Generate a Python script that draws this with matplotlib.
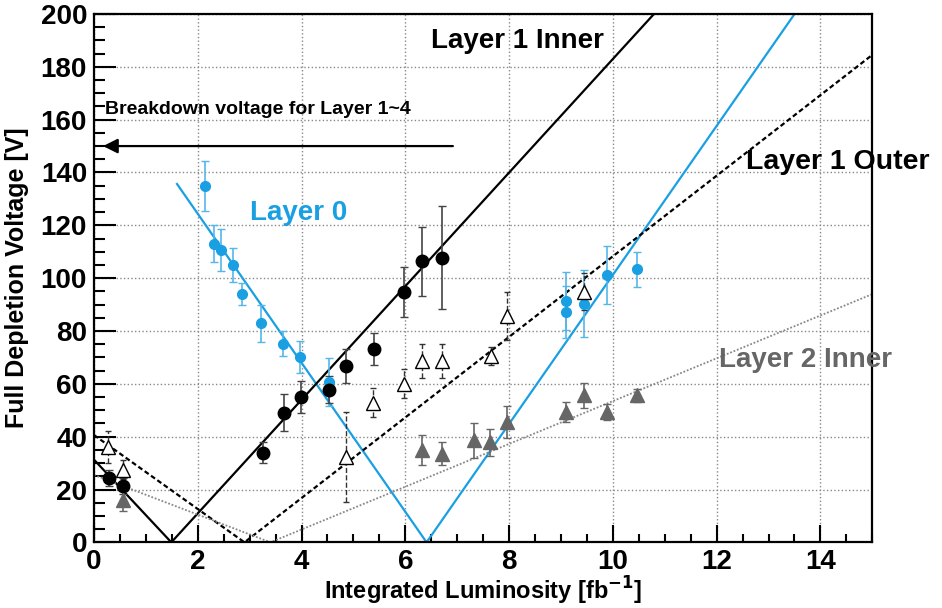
import numpy as np
import matplotlib
matplotlib.use("Agg")
import matplotlib.pyplot as plt
from matplotlib.ticker import MultipleLocator

plt.rcParams['font.family'] = ['Liberation Sans', 'DejaVu Sans']
plt.rcParams['font.weight'] = 'bold'
plt.rcParams['mathtext.default'] = 'bf'

# measured full depletion voltage vs integrated luminosity
layer0_lumi = [2.13, 2.31, 2.44, 2.67, 2.85, 3.22, 3.64, 3.97, 4.52, 9.09, 9.09, 9.45, 9.88, 10.47]
layer0_vfd = [135, 113, 110.6, 105, 94, 83, 75.2, 70.2, 60.7, 91.3, 87.2, 90.4, 101.3, 103.3]
layer0_err = [9.5, 7, 8, 6.5, 4.3, 7, 4.7, 6, 9, 11, 10, 12.5, 11, 6.5]

l1in_lumi = [0.28, 0.55, 3.25, 3.67, 3.98, 4.52, 4.86, 5.39, 5.98, 6.32, 6.71]
l1in_vfd = [24.4, 21.3, 34, 49.1, 55, 57.8, 66.8, 73.1, 94.8, 106.4, 107.7]
l1in_err = [3, 3, 4, 7, 6, 5, 6.5, 6, 9.6, 13, 19.5]

l1out_lumi = [0.27, 0.55, 4.86, 5.38, 5.98, 6.32, 6.71, 7.66, 7.95, 9.45]
l1out_vfd = [36.1, 27.5, 32.3, 52.9, 60.1, 68.6, 68.6, 70.5, 85.6, 94.8]
l1out_err = [6, 3.5, 17, 5.5, 5.5, 6.5, 6.5, 3.5, 9, 7]

l2in_lumi = [0.55, 6.32, 6.71, 7.32, 7.64, 7.95, 9.09, 9.45, 9.88, 10.47]
l2in_vfd = [16, 35.1, 33.6, 38.6, 37.8, 45.6, 49.4, 55.7, 49.4, 55.7]
l2in_err = [4, 5.7, 4.5, 6.5, 5, 6, 3.7, 4.7, 3, 2.5]

# type-inversion fits: zero point, slope before and after inversion, start of fit
fit_names = ['Layer 0', 'Layer 1 Inner', 'Layer 1 Outer', 'Layer 2 Inner']
fit_zero = [6.41, 1.49, 2.90, 3.40]
fit_slope_down = [28.2, 21.0, 14.0, 7.5]
fit_slope_up = [28.2, 21.5, 15.25, 8.1]
fit_start = [1.6, 0.0, 0.0, 0.0]

breakdown_v = 150

blue = '#1a9fe3'
grey = '#666666'

fig = plt.figure(figsize=(9.42, 6.08), dpi=100)
ax = fig.add_axes([0.0998, 0.108, 0.8262, 0.869])

# fit lines
styles = [dict(color=blue, lw=1.6, ls='-'),
          dict(color='black', lw=1.6, ls='-'),
          dict(color='black', lw=1.6, ls=(0, (2.2, 1.3))),
          dict(color='#888888', lw=1.3, ls=(0, (1, 1)))]
for z, sd, su, x0, st in zip(fit_zero, fit_slope_down, fit_slope_up, fit_start, styles):
    x = np.linspace(x0, 15, 600)
    v = np.where(x < z, sd * (z - x), su * (x - z))
    ax.plot(x, v, zorder=2, **st)

# data points
ax.errorbar(layer0_lumi, layer0_vfd, yerr=layer0_err, fmt='o', color=blue,
            ms=7, ecolor='#55b6ea', elinewidth=1.2, capsize=3, zorder=4)
ax.errorbar(l1in_lumi, l1in_vfd, yerr=l1in_err, fmt='o', color='black',
            ms=9, ecolor='#444444', elinewidth=1.2, capsize=3, zorder=4)
eb = ax.errorbar(l1out_lumi, l1out_vfd, yerr=l1out_err, fmt='^', mfc='white',
                 mec='black', mew=1.0, ms=10, ecolor='#333333', elinewidth=1.0,
                 capsize=2, zorder=4)
eb[2][0].set_linestyle('--')
ax.errorbar(l2in_lumi, l2in_vfd, yerr=l2in_err, fmt='^', color=grey,
            ms=10, ecolor=grey, elinewidth=1.2, capsize=3, zorder=4)

# breakdown voltage arrow
ax.annotate('', xy=(0.12, breakdown_v), xytext=(6.97, breakdown_v),
            arrowprops=dict(arrowstyle='-|>', color='black', lw=1.6,
                            mutation_scale=22), zorder=5)
ax.text(0.21, 163.8, 'Breakdown voltage for Layer 1~4', fontsize=14,
        fontweight='bold', va='center', ha='left', zorder=5)

# layer labels
ax.text(6.49, 189.6, 'Layer 1 Inner', fontsize=20, fontweight='bold',
        color='black', va='center', zorder=6)
ax.text(12.57, 144.1, 'Layer 1 Outer', fontsize=20.5, fontweight='bold',
        color='black', va='center', zorder=6, clip_on=False)
ax.text(3.01, 124.8, 'Layer 0', fontsize=20, fontweight='bold',
        color=blue, va='center', zorder=6)
ax.text(12.05, 69.1, 'Layer 2 Inner', fontsize=20, fontweight='bold',
        color=grey, va='center', zorder=6, clip_on=False)

ax.set_xlim(0, 15)
ax.set_ylim(0, 200)
ax.xaxis.set_major_locator(MultipleLocator(2))
ax.xaxis.set_minor_locator(MultipleLocator(0.5))
ax.yaxis.set_major_locator(MultipleLocator(20))
ax.yaxis.set_minor_locator(MultipleLocator(5))
ax.tick_params(axis='both', which='both', direction='in', width=1.5)
ax.tick_params(axis='x', which='major', length=12, pad=5, labelsize=20)
ax.tick_params(axis='x', which='minor', length=6)
ax.tick_params(axis='y', which='major', length=16, pad=5, labelsize=20)
ax.tick_params(axis='y', which='minor', length=8)
for lab in ax.get_xticklabels() + ax.get_yticklabels():
    lab.set_fontweight('bold')

ax.grid(True, which='major', color='#888888', ls=':', lw=1.0, zorder=0)
ax.set_axisbelow(True)
for sp in ax.spines.values():
    sp.set_linewidth(1.6)

ax.set_xlabel('Integrated Luminosity [fb$^{-1}$]', fontsize=17,
              fontweight='bold')
ax.xaxis.set_label_coords(0.5, -0.062)
ax.xaxis.label.set_va('top')
ax.set_ylabel('Full Depletion Voltage [V]', fontsize=18, fontweight='bold')
ax.yaxis.set_label_coords(-0.083, 0.5)

fig.savefig('out.png', dpi=100)
